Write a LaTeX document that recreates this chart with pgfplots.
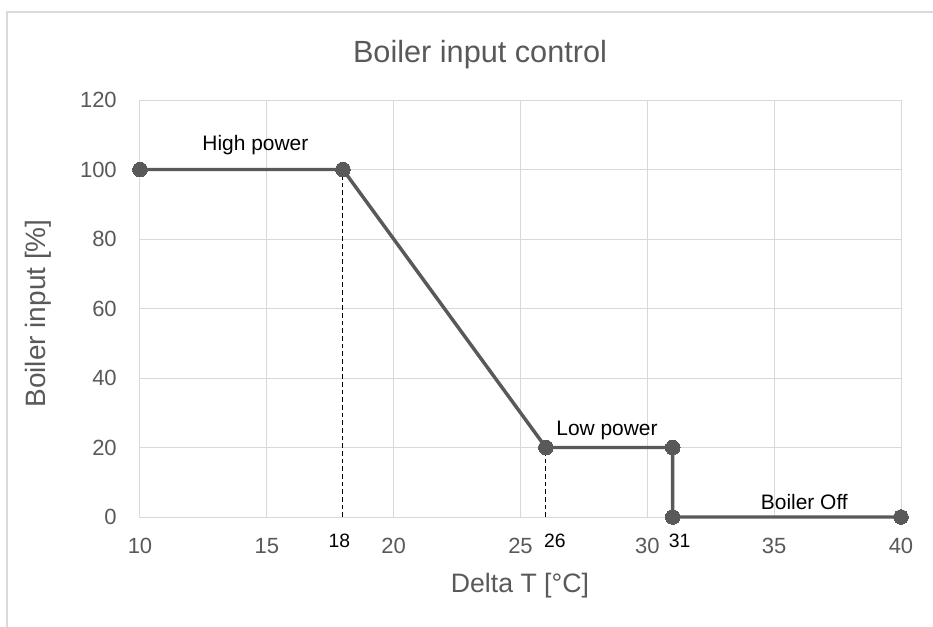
\documentclass[border=0pt]{standalone}
\usepackage{fontspec}
\setmainfont{Liberation Sans}
\usepackage{pgfplots}
\pgfplotsset{compat=1.18}
\definecolor{txt}{HTML}{595959}
\definecolor{grd}{HTML}{D9D9D9}
\definecolor{ser}{HTML}{595959}
\begin{document}
\begin{tikzpicture}[x=1pt,y=1pt]
\useasboundingbox (-105,-81.75) rectangle (594.75,387.75);
\draw[grd, line width=0.9pt] (-99.75,-90) -- (-99.75,378.75) -- (600,378.75);
\begin{axis}[
  at={(0,0)}, anchor=south west,
  scale only axis, width=570.75pt, height=312.75pt,
  xmin=10, xmax=40, ymin=0, ymax=120,
  xtick={10,15,...,40}, ytick={0,20,...,120},
  grid=major, major grid style={grd, line width=0.75pt},
  axis line style={grd, line width=0.75pt},
  major tick length=0pt, tick style={draw=none},
  tick label style={font=\fontsize{16.5}{19}\selectfont, text=txt},
  /pgf/number format/assume math mode=true,
  xticklabel style={anchor=base, inner sep=0pt, yshift=-27pt},
  yticklabel style={anchor=east, inner sep=0pt, xshift=-17.25pt},
  clip=false,
]
% dashed guides
\addplot[black, line width=0.75pt, dash pattern=on 3.5pt off 2.25pt] coordinates {(18,0) (18,100)};
\addplot[black, line width=0.75pt, dash pattern=on 3.5pt off 2.25pt] coordinates {(26,0) (26,20)};
% main series
\addplot[ser, line width=2.6pt, mark=*, mark size=5.5pt, mark options={fill=ser, draw=ser, line width=0pt}]
  coordinates {(10,100) (18,100) (26,20) (31,20) (31,0) (40,0)};
% titles
\node[anchor=base, font=\fontsize{23}{28}\selectfont, text=txt] at (axis description cs:0.4468,1.0911) {Boiler input control};
\node[anchor=base, font=\fontsize{20}{24}\selectfont, text=txt] at (axis description cs:0.4993,-0.18) {Delta T [°C]};
\node[anchor=base, rotate=90, font=\fontsize{21}{26}\selectfont, text=txt] at (axis description cs:-0.124,0.488) {Boiler input [\%]};
% annotations
\node[anchor=base, font=\fontsize{15.7}{19}\selectfont] at (axis cs:14.55,105.6) {High power};
\node[anchor=base, font=\fontsize{15.7}{19}\selectfont] at (axis cs:28.41,23.4) {Low power};
\node[anchor=base, font=\fontsize{15.7}{19}\selectfont] at (axis cs:36.19,2.2) {Boiler Off};
\node[anchor=base, font=\fontsize{14.5}{17}\selectfont] at (axis cs:17.86,-8.72) {18};
\node[anchor=base, font=\fontsize{14.5}{17}\selectfont] at (axis cs:26.36,-8.72) {26};
\node[anchor=base, font=\fontsize{14.5}{17}\selectfont] at (axis cs:31.27,-8.72) {31};
\end{axis}
\end{tikzpicture}
\end{document}
